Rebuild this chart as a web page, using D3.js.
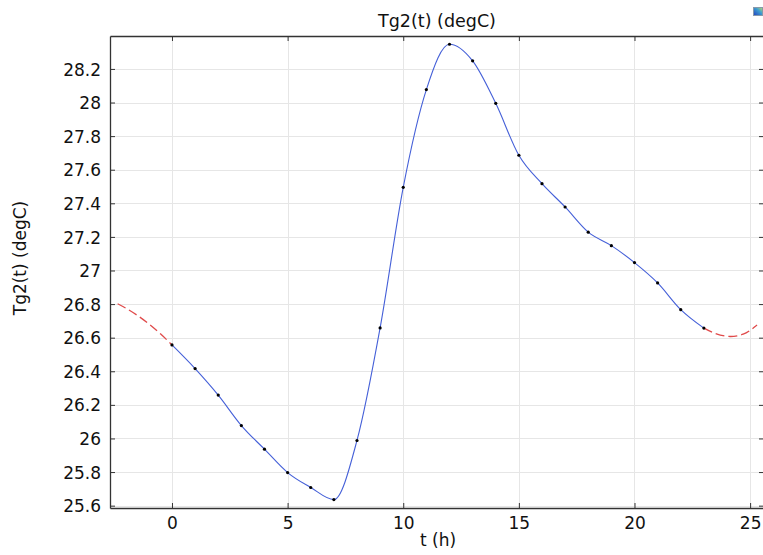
<!DOCTYPE html>
<html>
<head>
<meta charset="utf-8">
<script src="https://cdn.jsdelivr.net/npm/d3@7"></script>
<style>
  html, body { margin: 0; padding: 0; background: #fff; }
  svg { display: block; font-family: "DejaVu Sans", sans-serif; }
</style>
</head>
<body>
<svg id="chart" width="763" height="555"></svg>
<script>
// ---- data ----
const title = "Tg2(t) (degC)";
const xLabel = "t (h)";
const yLabel = "Tg2(t) (degC)";
const hours = [0,1,2,3,4,5,6,7,8,9,10,11,12,13,14,15,16,17,18,19,20,21,22,23];
const tg2 = [26.557,26.416,26.258,26.077,25.936,25.797,25.708,25.636,25.988,26.658,
             27.495,28.077,28.347,28.248,27.995,27.686,27.517,27.378,27.228,27.148,
             27.047,26.926,26.767,26.657];
const extrapLeftT = [-2.35,-2,-1.5,-1,-0.5,0];
const extrapLeftV = [26.802,26.776,26.733,26.682,26.623,26.557];
const extrapRightT = [23,23.5,24.15,24.7,25.3];
const extrapRightV = [26.657,26.625,26.607,26.621,26.675];
const xTicks = [0,5,10,15,20,25];
const yTicks = [25.6,25.8,26,26.2,26.4,26.6,26.8,27,27.2,27.4,27.6,27.8,28,28.2];

// ---- layout ----
const svg = d3.select("#chart");
const L = 110, R = 764, T = 36, B = 508;
const x = d3.scaleLinear().domain([-2.68, 25.6]).range([L, R]);
const y = d3.scaleLinear().domain([25.586, 28.396]).range([B, T]);

// grid
const grid = svg.append("g").attr("stroke", "#e6e6e6").attr("stroke-width", 1);
grid.selectAll(".gx").data(xTicks).join("line")
  .attr("x1", d => Math.round(x(d)) + 0.5).attr("x2", d => Math.round(x(d)) + 0.5)
  .attr("y1", T).attr("y2", B);
grid.selectAll(".gy").data(yTicks).join("line")
  .attr("y1", d => Math.round(y(d)) + 0.5).attr("y2", d => Math.round(y(d)) + 0.5)
  .attr("x1", L).attr("x2", R);

// axes (ticks inward)
const fmt = d => String(+d.toFixed(1));
const tickLen = 5;
const axB = svg.append("g").attr("transform", `translate(0,${B})`)
  .call(d3.axisBottom(x).tickValues(xTicks).tickSizeInner(-tickLen).tickSizeOuter(0).tickPadding(10).tickFormat(fmt));
const axT = svg.append("g").attr("transform", `translate(0,${T})`)
  .call(d3.axisTop(x).tickValues(xTicks).tickSizeInner(-tickLen).tickSizeOuter(0).tickFormat(""));
const axL = svg.append("g").attr("transform", `translate(${L},0)`)
  .call(d3.axisLeft(y).tickValues(yTicks).tickSizeInner(-tickLen).tickSizeOuter(0).tickPadding(9).tickFormat(fmt));
const axR = svg.append("g").attr("transform", `translate(${R},0)`)
  .call(d3.axisRight(y).tickValues(yTicks).tickSizeInner(-tickLen).tickSizeOuter(0).tickFormat(""));
[axB, axT, axL, axR].forEach(a => {
  a.select(".domain").attr("stroke", "#333").attr("stroke-width", 1.3);
  a.selectAll(".tick line").attr("stroke", "#333");
  a.selectAll("text").attr("font-family", "DejaVu Sans, sans-serif").attr("font-size", 17).attr("fill", "#111");
});
axB.selectAll("text").attr("dy", "0.71em").attr("y", 9);
axL.selectAll("text").attr("dy", "0.36em");

// curves
const line = d3.line().x(d => x(d[0])).y(d => y(d[1])).curve(d3.curveMonotoneX);
const mainPts = hours.map((t, i) => [t, tg2[i]]);
const leftPts = extrapLeftT.map((t, i) => [t, extrapLeftV[i]]);
const rightPts = extrapRightT.map((t, i) => [t, extrapRightV[i]]);

const clip = svg.append("clipPath").attr("id", "plotclip").append("rect")
  .attr("x", L).attr("y", T).attr("width", R - L).attr("height", B - T);
const plot = svg.append("g").attr("clip-path", "url(#plotclip)");

plot.selectAll(".ext").data([leftPts, rightPts]).join("path")
  .attr("d", line).attr("fill", "none").attr("stroke", "#e04a4a")
  .attr("stroke-width", 1.3).attr("stroke-dasharray", "9,4");
plot.append("path").datum(mainPts).attr("d", line)
  .attr("fill", "none").attr("stroke", "#4560d8").attr("stroke-width", 1.1);
plot.selectAll(".pt").data(mainPts).join("circle")
  .attr("cx", d => x(d[0])).attr("cy", d => y(d[1])).attr("r", 1.6).attr("fill", "#000");

// labels
svg.append("text").attr("x", (L + R) / 2).attr("y", 27).attr("text-anchor", "middle")
  .attr("font-size", 17.5).attr("fill", "#111").text(title);
svg.append("text").attr("x", 438).attr("y", 546).attr("text-anchor", "middle")
  .attr("font-size", 17).attr("fill", "#111").text(xLabel);
svg.append("text").attr("transform", "translate(26,258) rotate(-90)").attr("text-anchor", "middle")
  .attr("font-size", 17).attr("fill", "#111").text(yLabel);

// small icon at top right
const grad = svg.append("defs").append("linearGradient").attr("id", "icg")
  .attr("x1", 0).attr("y1", 1).attr("x2", 1).attr("y2", 0);
grad.append("stop").attr("offset", "0").attr("stop-color", "#2040c0");
grad.append("stop").attr("offset", "0.6").attr("stop-color", "#40a0d0");
grad.append("stop").attr("offset", "1").attr("stop-color", "#c0e060");
svg.append("rect").attr("x", 753.5).attr("y", 7.5).attr("width", 9).attr("height", 8)
  .attr("fill", "url(#icg)").attr("stroke", "#8899aa").attr("stroke-width", 1);
</script>
</body>
</html>
